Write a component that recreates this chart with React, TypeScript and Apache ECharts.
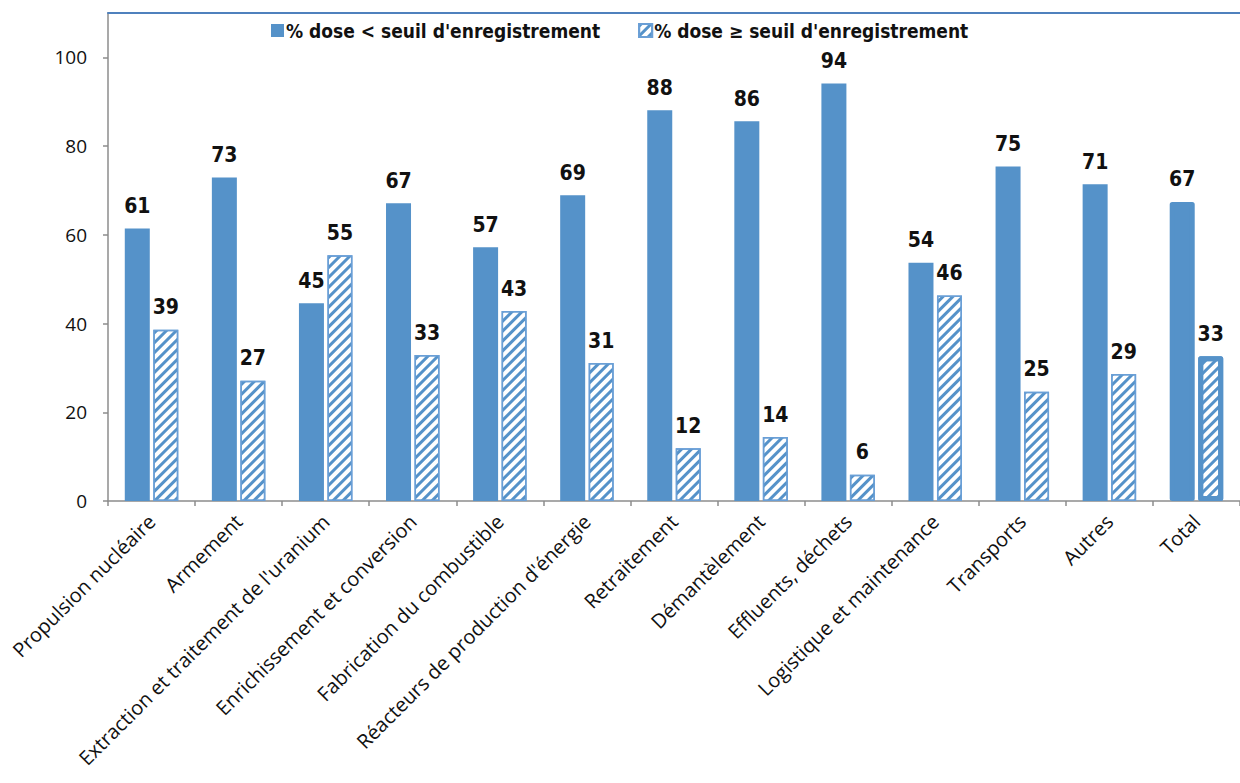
import React, { useEffect, useRef } from "react";
import * as echarts from "echarts";

const categories = [
  "Propulsion nucléaire",
  "Armement",
  "Extraction et traitement de l'uranium",
  "Enrichissement et conversion",
  "Fabrication du combustible",
  "Réacteurs de production d'énergie",
  "Retraitement",
  "Démantèlement",
  "Effluents, déchets",
  "Logistique et maintenance",
  "Transports",
  "Autres",
  "Total",
];

const belowThreshold = [61.4, 72.9, 44.6, 67.1, 57.2, 68.9, 88.1, 85.6, 94.1, 53.7, 75.4, 71.4, 67.4];
const aboveThreshold = [38.6, 27.1, 55.4, 32.9, 42.8, 31.1, 11.9, 14.4, 5.9, 46.3, 24.6, 28.6, 32.6];

const seriesNames = ["% dose < seuil d'enregistrement", "% dose ≥ seuil d'enregistrement"];
const yTicks = [0, 20, 40, 60, 80, 100];

const BLUE = "#5592c9";
const BOLD_FONT = "'DejaVu Sans Condensed', 'DejaVu Sans', sans-serif";
const AXIS_FONT = "'Open Sans', 'Noto Sans', sans-serif";

export default function App() {
  const ref = useRef<HTMLDivElement>(null);

  useEffect(() => {
    if (!ref.current) return;
    const chart = echarts.init(ref.current, undefined, { renderer: "svg" });
    const lastIdx = categories.length - 1;

    const solidData = belowThreshold.map((v, i) =>
      i === lastIdx
        ? { value: v, itemStyle: { borderColor: BLUE, borderWidth: 5, borderJoin: "round" } }
        : v
    );
    const hatchData = aboveThreshold.map((v, i) =>
      i === lastIdx
        ? { value: v, itemStyle: { borderColor: BLUE, borderWidth: 5, borderJoin: "round" } }
        : v
    );

    const labelCfg = {
      show: true,
      position: "top" as const,
      distance: 12,
      fontFamily: BOLD_FONT,
      fontWeight: "bold" as const,
      fontSize: 21,
      color: "#111",
      formatter: (p: any) => Number(p.value).toFixed(0),
    };

    chart.setOption({
      animation: false,
      backgroundColor: "#fff",
      legend: {
        left: 266,
        top: 16,
        itemWidth: 13,
        itemHeight: 13,
        itemGap: 38,
        icon: "rect",
        textStyle: {
          fontFamily: BOLD_FONT,
          fontWeight: "bold",
          fontSize: 19,
          color: "#111",
          padding: [0, 0, 0, -3],
        },
        data: seriesNames,
      },
      grid: { left: 108, right: -9, top: 13, bottom: 282, containLabel: false },
      xAxis: [
        {
          type: "category",
          data: categories,
          axisLine: { lineStyle: { color: "#8c8c8c", width: 1.5 } },
          axisTick: { show: true, length: 5, lineStyle: { color: "#8c8c8c", width: 1.5 } },
          axisLabel: {
            rotate: 45,
            interval: 0,
            margin: 17,
            fontFamily: AXIS_FONT,
            fontSize: 20,
            color: "#111",
          },
        },
        {
          type: "category",
          position: "top",
          data: categories,
          axisLine: { show: true, lineStyle: { color: "#4f81bd", width: 2 } },
          axisTick: { show: false },
          axisLabel: { show: false },
        },
      ],
      yAxis: {
        type: "value",
        min: yTicks[0],
        max: 110,
        interval: 20,
        axisLine: { show: true, lineStyle: { color: "#8c8c8c", width: 1.5 } },
        axisTick: { show: true, length: 5, lineStyle: { color: "#8c8c8c", width: 1.5 } },
        splitLine: { show: false },
        axisLabel: {
          showMaxLabel: false,
          margin: 21,
          fontFamily: AXIS_FONT,
          fontSize: 19,
          color: "#111",
          formatter: (v: number) => (yTicks.includes(v) ? String(v) : ""),
        },
      },
      series: [
        {
          name: seriesNames[0],
          type: "bar",
          data: solidData,
          barWidth: 25,
          barGap: "14%",
          itemStyle: { color: BLUE },
          label: labelCfg,
        },
        {
          name: seriesNames[1],
          type: "bar",
          data: hatchData,
          barWidth: 25,
          itemStyle: {
            color: "#ffffff",
            borderColor: "#6a9fd6",
            borderWidth: 1.5,
            decal: {
              symbol: "rect",
              symbolSize: 1,
              dashArrayX: [1, 0],
              dashArrayY: [3, 4],
              rotation: -Math.PI / 4,
              color: BLUE,
            },
          },
          label: labelCfg,
        },
      ],
    });

    return () => chart.dispose();
  }, []);

  return (
    <div
      ref={ref}
      style={{ position: "absolute", left: 0, top: 0, width: 1240, height: 783, overflow: "hidden" }}
    />
  );
}
